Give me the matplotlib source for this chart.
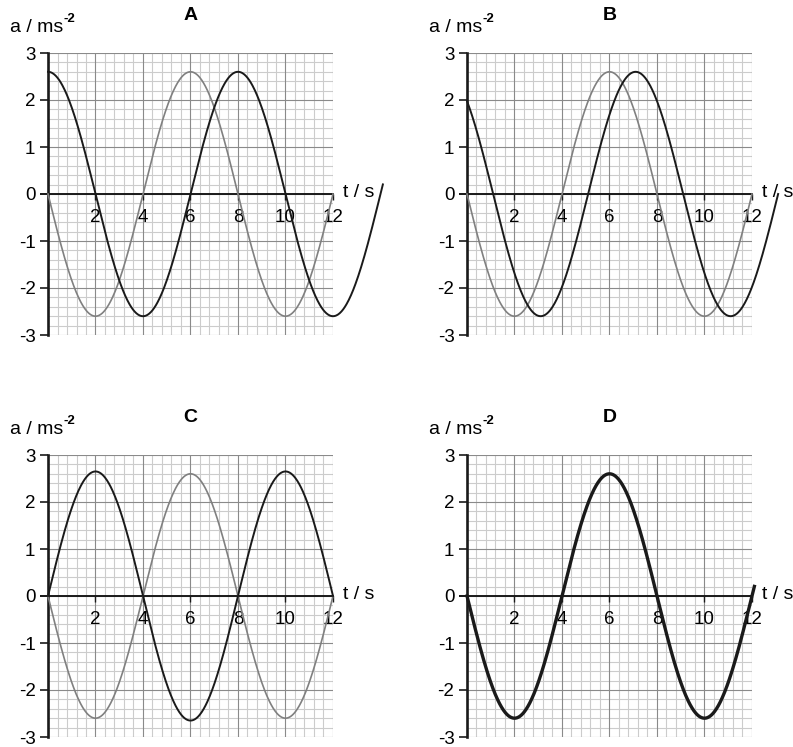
import matplotlib.pyplot as plt
import numpy as np

plt.rcParams['font.family'] = ['Liberation Sans', 'DejaVu Sans']

panels = ['A', 'B', 'C', 'D']
period = 8.0  # s, same oscillation in every panel

# black trace: amplitude (m s^-2), time of a maximum (s), last time drawn (s)
dark_amp = [2.6, 2.6, 2.65, 2.6]
dark_peak = [0.0, 7.1, 2.0, 6.0]
dark_end = [14.1, 13.1, 12.0, 12.1]

# grey trace (not in D)
grey_amp = [2.6, 2.6, 2.6, None]
grey_peak = [6.0, 6.0, 6.0, None]
grey_end = [12.0, 12.0, 12.0, None]

x_ticks = [2, 4, 6, 8, 10, 12]
y_ticks = [-3, -2, -1, 0, 1, 2, 3]


def wave(amp, t_peak, t_end):
    t = np.linspace(0, t_end, 600)
    return t, amp * np.cos(2 * np.pi * (t - t_peak) / period)


def graph_paper(ax):
    ax.set_xlim(0, 12)
    ax.set_ylim(-3, 3)
    for x in np.arange(0, 12.01, 0.4):
        major = abs(x / 2 - round(x / 2)) < 1e-6
        ax.axvline(x, color='#8a8a8a' if major else '#cccccc', lw=0.8, zorder=0.5 if major else 0)
    for y in np.arange(-3, 3.01, 0.2):
        major = abs(y - round(y)) < 1e-6
        ax.axhline(y, color='#8a8a8a' if major else '#cccccc', lw=0.8, zorder=0.5 if major else 0)

    for s in ['top', 'right']:
        ax.spines[s].set_visible(False)
    ax.spines['left'].set_linewidth(1.9)
    ax.spines['left'].set_color('#1a1a1a')
    ax.spines['bottom'].set_position(('data', 0))
    ax.spines['bottom'].set_linewidth(1.4)
    ax.spines['bottom'].set_color('#1a1a1a')
    ax.spines['bottom'].set_bounds(-0.28, 12)

    ax.set_xticks(x_ticks)
    ax.set_yticks(y_ticks)
    ax.set_yticklabels([str(v) for v in y_ticks])
    ax.tick_params(axis='y', direction='out', length=6, width=1.2, pad=3, labelsize=13.5, color='#1a1a1a')
    ax.tick_params(axis='x', direction='out', length=4, width=1.0, pad=7, labelsize=13.5, color='#1a1a1a')
    ax.set_axisbelow(True)

    ax.text(12.42, 0.03, 't / s', fontsize=14, ha='left', va='center', clip_on=False)
    lab = ax.text(-1.6, 3.55, 'a / ms', fontsize=14, ha='left', va='center', clip_on=False)
    ax.annotate('-2', xy=(1.0, 0.62), xycoords=lab, fontsize=9.5, fontweight='bold',
                ha='left', va='bottom', annotation_clip=False)


fig = plt.figure(figsize=(7.93, 7.47), dpi=100)
W, H = 793.0, 747.0
# axes origins in pixels: (left edge, top edge)
corners = [(48, 53), (467, 53), (48, 455), (467, 455)]

for i, name in enumerate(panels):
    left, top = corners[i]
    ax = fig.add_axes([left / W, 1 - (top + 282) / H, 285 / W, 282 / H])
    graph_paper(ax)
    ax.text(6.0, 3.8, name, fontsize=14, fontweight='bold', ha='center', va='center', clip_on=False)

    if grey_amp[i] is not None:
        t, a = wave(grey_amp[i], grey_peak[i], grey_end[i])
        ax.plot(t, a, color='#808080', lw=1.2, clip_on=False, zorder=3)
    t, a = wave(dark_amp[i], dark_peak[i], dark_end[i])
    ax.plot(t, a, color='#1a1a1a', lw=2.4 if name == 'D' else 1.4, clip_on=False, zorder=4)

plt.savefig('out.png', dpi=100)
